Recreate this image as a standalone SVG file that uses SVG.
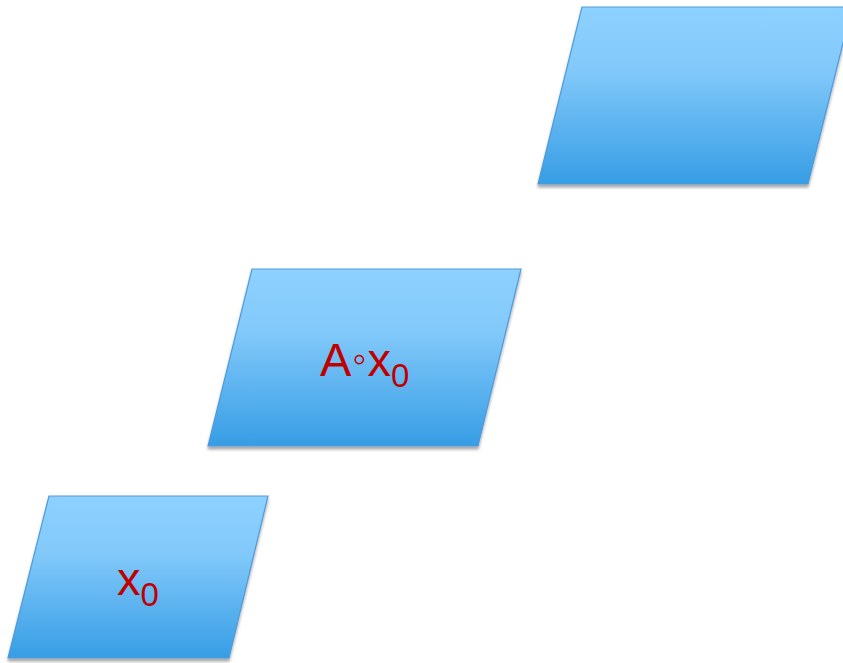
<svg xmlns="http://www.w3.org/2000/svg" width="843" height="663" viewBox="0 0 843 663">
<style>
.shape{stroke:#4F9ADA;stroke-width:1.2;filter:url(#sh)}
.lbl{font-family:"Liberation Sans",Arial,sans-serif;fill:#C00000}
</style>
<defs>
<linearGradient id="g" x1="0" y1="0" x2="0" y2="1">
<stop offset="0" stop-color="#8DD1FF"/>
<stop offset="0.35" stop-color="#82C9FA"/>
<stop offset="1" stop-color="#379DE5"/>
</linearGradient>
<filter id="sh" x="-10%" y="-10%" width="120%" height="130%">
<feGaussianBlur in="SourceAlpha" stdDeviation="1.5"/>
<feOffset dx="0" dy="2.5" result="b"/>
<feComponentTransfer><feFuncA type="linear" slope="0.35"/></feComponentTransfer>
<feMerge><feMergeNode/><feMergeNode in="SourceGraphic"/></feMerge>
</filter>
</defs>
<g id="connectors"/>
<g id="node-top">
<polygon class="shape" fill="url(#g)" points="582,7 852,7 808,184 538,184"/>
</g>
<g id="node-mid">
<polygon class="shape" fill="url(#g)" points="252,269 521,269 478,446 208,446"/>
<text class="lbl" x="320" y="376" font-size="47">A<tspan font-size="40" dx="1" dy="-4">◦</tspan><tspan dx="1" dy="4">x</tspan><tspan font-size="33" dy="11">0</tspan></text>
</g>
<g id="node-bot">
<polygon class="shape" fill="url(#g)" points="49,496 268,496 229,658 8,658"/>
<text class="lbl" x="117" y="595" font-size="47">x<tspan font-size="33" dy="11">0</tspan></text>
</g>
</svg>
